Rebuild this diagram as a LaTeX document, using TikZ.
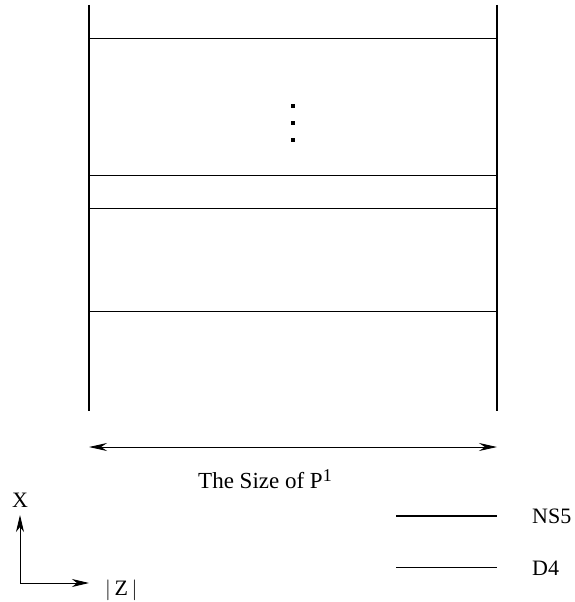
\documentclass[tikz,border=0pt]{standalone}
\usepackage{fontspec}
\setmainfont{Liberation Serif}
\usetikzlibrary{arrows.meta}
\begin{document}
\begin{tikzpicture}[x=1pt,y=-1pt,
  ns5/.style={line width=2.8pt},
  dfour/.style={line width=0.8pt},
  arr/.style={line width=0.9pt},
  lbl/.style={font=\fontsize{22}{26}\selectfont, inner sep=0pt}]
\useasboundingbox (0,0) rectangle (574,602);
% NS5 branes
\coordinate (L1) at (89,5);   \coordinate (L2) at (89,411);
\coordinate (R1) at (497,5);  \coordinate (R2) at (497,411);
\draw[ns5] (L1) -- (L2);
\draw[ns5] (R1) -- (R2);
% D4 branes
\foreach \n/\y in {a/38,b/175,c/208,d/311}{
  \coordinate (\n l) at (89,\y); \coordinate (\n r) at (497,\y);
  \draw[dfour] (\n l) -- (\n r);
}
% dots
\foreach \n/\y in {1/106,2/123,3/140}{
  \node[fill=black, inner sep=0pt, minimum size=3.2pt] (dot\n) at (293,\y) {};
}
% size arrow
\coordinate (sa) at (89,447); \coordinate (sb) at (497,447);
\draw[arr,{Stealth[length=18pt,width=8pt,inset=6pt]}-{Stealth[length=18pt,width=8pt,inset=6pt]}] (sa) -- (sb);
\node[inner sep=0pt, font=\fontsize{23}{27}\selectfont, anchor=base west] (size) at (198,488) {The Size of P\raisebox{7pt}{\fontsize{18}{20}\selectfont 1}};
% axes
\coordinate (o) at (20,583); \coordinate (xu) at (20,515); \coordinate (zr) at (89,583);
\draw[arr,-{Stealth[length=17pt,width=8pt,inset=5pt]}] (o) -- (xu);
\draw[arr,-{Stealth[length=17pt,width=8pt,inset=5pt]}] (o) -- (zr);
\node[lbl, anchor=base] (X) at (20,507) {X};
\node[lbl, anchor=base west] (Z) at (105,595) {$|$\,Z\,$|$};
% legend
\coordinate (n1) at (396,516); \coordinate (n2) at (497,516);
\coordinate (d1) at (396,567); \coordinate (d2) at (497,567);
\draw[ns5] (n1) -- (n2);
\draw[dfour] (d1) -- (d2);
\node[lbl, anchor=base west] (NS) at (532,523) {NS5};
\node[lbl, anchor=base west] (D) at (532,575) {D4};
\end{tikzpicture}
\end{document}
